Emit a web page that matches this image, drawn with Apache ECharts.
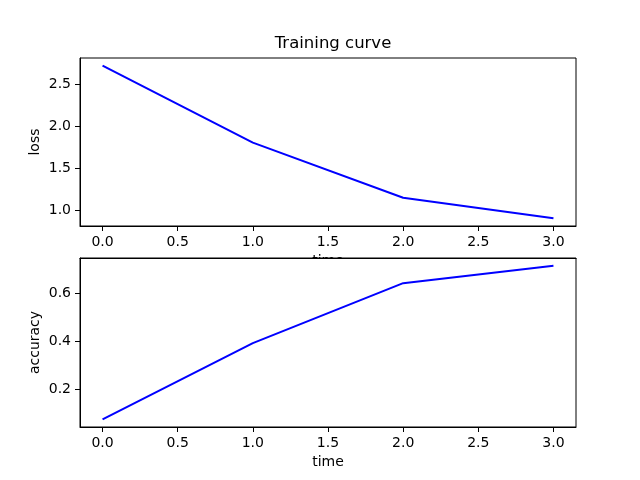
<!DOCTYPE html>
<html>
<head>
<meta charset="utf-8">
<script src="https://cdn.jsdelivr.net/npm/echarts@6/dist/echarts.min.js"></script>
<style>
  html, body { margin: 0; padding: 0; background: #fff; }
  #chart { width: 640px; height: 480px; }
</style>
</head>
<body>
<div id="chart"></div>
<script>
// data
var epochs = [0, 1, 2, 3];
var lossValues = [2.727, 1.81, 1.155, 0.909];
var accValues = [0.074, 0.392, 0.642, 0.715];
var xTicks = [0, 0.5, 1, 1.5, 2, 2.5, 3];
var lossTicks = [1.0, 1.5, 2.0, 2.5];
var accTicks = [0.2, 0.4, 0.6];

var FONT = "DejaVu Sans";

// matplotlib style 5% margins
function pad(arr) {
    var lo = Math.min.apply(null, arr), hi = Math.max.apply(null, arr);
    var d = (hi - lo) * 0.05;
    return [lo - d, hi + d];
}

function pairs(xs, ys) {
    return xs.map(function (x, i) { return [x, ys[i]]; });
}

var xr = pad(epochs);
var lr = pad(lossValues);
var ar = pad(accValues);

function xAxis(gridIndex, name) {
    return {
        type: 'value',
        gridIndex: gridIndex,
        min: xr[0], max: xr[1],
        name: name,
        nameLocation: 'middle',
        nameGap: 28,
        nameMoveOverlap: false,
        nameTextStyle: { fontFamily: FONT, fontSize: 14, color: '#000' },
        axisLine: { show: true, onZero: false, lineStyle: { color: '#000', width: 1 } },
        axisTick: { show: true, inside: false, length: 5, customValues: xTicks, lineStyle: { color: '#000' } },
        axisLabel: {
            margin: 9, fontFamily: FONT, fontSize: 14, color: '#000',
            customValues: xTicks,
            formatter: function (v) { return v.toFixed(1); }
        },
        splitLine: { show: false }
    };
}

function yAxis(gridIndex, name, range, ticks) {
    return {
        type: 'value',
        gridIndex: gridIndex,
        min: range[0], max: range[1],
        name: name,
        nameLocation: 'middle',
        nameGap: 38,
        nameMoveOverlap: false,
        nameTextStyle: { fontFamily: FONT, fontSize: 14, color: '#000' },
        axisLine: { show: true, onZero: false, lineStyle: { color: '#000', width: 1 } },
        axisTick: { show: true, inside: false, length: 5, customValues: ticks, lineStyle: { color: '#000' } },
        axisLabel: {
            margin: 9, fontFamily: FONT, fontSize: 14, color: '#000',
            customValues: ticks,
            formatter: function (v) { return v.toFixed(1); }
        },
        splitLine: { show: false }
    };
}

var bottomTop = xAxis(1, '');
bottomTop.position = 'top';
bottomTop.z = 5;
bottomTop.axisTick = { show: false };
bottomTop.axisLabel = { show: false };

var chart = echarts.init(document.getElementById('chart'), null, { renderer: 'canvas' });
chart.setOption({
    backgroundColor: '#fff',
    animation: false,
    title: {
        text: 'Training curve',
        left: 328, top: 30,
        textAlign: 'center',
        textStyle: { fontFamily: FONT, fontSize: 16.5, fontWeight: 'normal', color: '#000' }
    },
    grid: [
        { left: 80, top: 58, width: 496, height: 168, show: true, borderColor: '#000', borderWidth: 1, backgroundColor: '#fff' },
        { left: 80, top: 258, width: 496, height: 169, show: true, borderColor: '#000', borderWidth: 1, backgroundColor: '#fff' }
    ],
    xAxis: [xAxis(0, 'time'), xAxis(1, 'time'), bottomTop],
    yAxis: [yAxis(0, 'loss', lr, lossTicks), yAxis(1, 'accuracy', ar, accTicks)],
    // the lower axes hide most of the upper "time" label, like in the picture
    graphic: [{
        type: 'rect', z: 4,
        shape: { x: 290, y: 258.5, width: 80, height: 14 },
        style: { fill: '#fff' }
    }],
    series: [
        {
            type: 'line', xAxisIndex: 0, yAxisIndex: 0, z: 6,
            data: pairs(epochs, lossValues),
            symbol: 'none',
            lineStyle: { color: '#0000ff', width: 2 }
        },
        {
            type: 'line', xAxisIndex: 1, yAxisIndex: 1, z: 6,
            data: pairs(epochs, accValues),
            symbol: 'none',
            lineStyle: { color: '#0000ff', width: 2 }
        }
    ]
});
</script>
</body>
</html>
